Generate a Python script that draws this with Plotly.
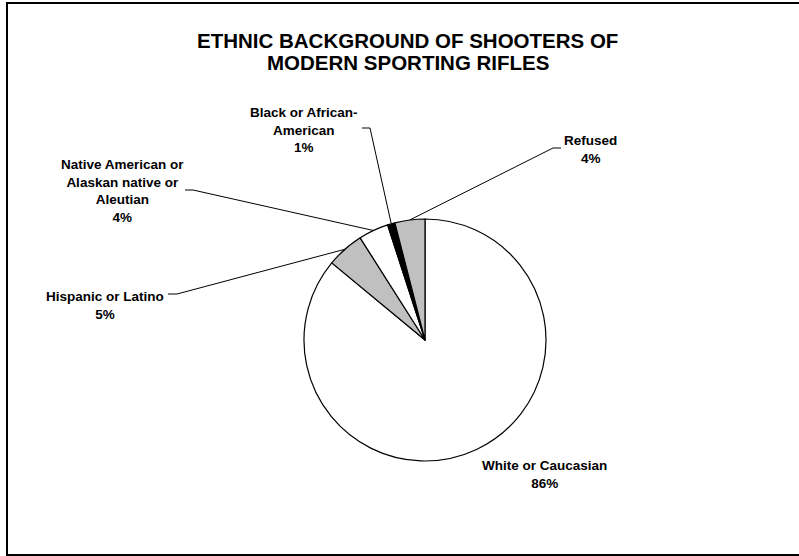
import math
import plotly.graph_objects as go

# ---- data ----
categories = ["White or Caucasian", "Hispanic or Latino",
              "Native American or<br>Alaskan native or<br>Aleutian",
              "Black or African-<br>American", "Refused"]
values = [86, 5, 4, 1, 4]
colors = ["#FFFFFF", "#C0C0C0", "#FFFFFF", "#000000", "#C0C0C0"]
title_lines = ["ETHNIC BACKGROUND OF SHOOTERS OF", "MODERN SPORTING RIFLES"]

# ---- layout geometry (pixels) ----
W, H = 799, 556
CX, CY, R = 425, 340, 121
FONT = "Liberation Sans, Arial, sans-serif"

def px(x):
    return x / W

def py(y):
    return 1 - y / H

# label centers and leader-line elbow points (px), None = no leader
label_pos = [(544, 474), (105, 305.5), (122, 191), (304, 129.7), (590, 149.5)]
elbows = [None,
          [(168, 294), (177, 294)],
          [(185, 190), (193, 190)],
          [(362, 128), (370, 128)],
          [(561, 148), (553, 148)]]

fig = go.Figure(go.Pie(
    labels=[c.replace("<br>", " ") for c in categories],
    values=values,
    sort=False,
    direction="clockwise",
    rotation=0,
    marker=dict(colors=colors, line=dict(color="#000000", width=1.2)),
    textinfo="none",
    hoverinfo="label+percent",
    showlegend=False,
    domain=dict(x=[px(CX - R), px(CX + R)], y=[py(CY + R), py(CY - R)]),
))

total = sum(values)
annotations = []
shapes = []
cum = 0
for cat, v, (lx, ly), elb in zip(categories, values, label_pos, elbows):
    mid = (cum + v / 2) / total * 2 * math.pi
    cum += v
    pct = round(v / total * 100)
    annotations.append(dict(
        x=px(lx), y=py(ly), xref="paper", yref="paper",
        text=f"<b>{cat}<br>{pct}%</b>", showarrow=False,
        xanchor="center", yanchor="middle", align="center",
        font=dict(family=FONT, size=13.5, color="#000000")))
    if elb is not None:
        ex = CX + R * math.sin(mid)
        ey = CY - R * math.cos(mid)
        pts = elb + [(ex, ey)]
        path = "M " + " L ".join(f"{px(a)},{py(b)}" for a, b in pts)
        shapes.append(dict(type="path", path=path, xref="paper", yref="paper",
                           line=dict(color="#000000", width=1)))

for i, (t, ty) in enumerate(zip(title_lines, [40, 63])):
    annotations.append(dict(
        x=px(408), y=py(ty), xref="paper", yref="paper",
        text=f"<b>{t}</b>", showarrow=False,
        xanchor="center", yanchor="middle",
        font=dict(family=FONT, size=20.5, color="#000000")))

shapes.append(dict(type="rect", xref="paper", yref="paper",
                   x0=px(7), x1=px(805), y0=py(555), y1=py(3),
                   line=dict(color="#000000", width=2)))

fig.update_layout(
    width=W, height=H,
    margin=dict(l=0, r=0, t=0, b=0),
    paper_bgcolor="#FFFFFF", plot_bgcolor="#FFFFFF",
    annotations=annotations, shapes=shapes,
)

fig.write_html("out.html",
               config={"displayModeBar": False},
               post_script="document.body.style.margin='0';document.body.style.overflow='hidden';")
